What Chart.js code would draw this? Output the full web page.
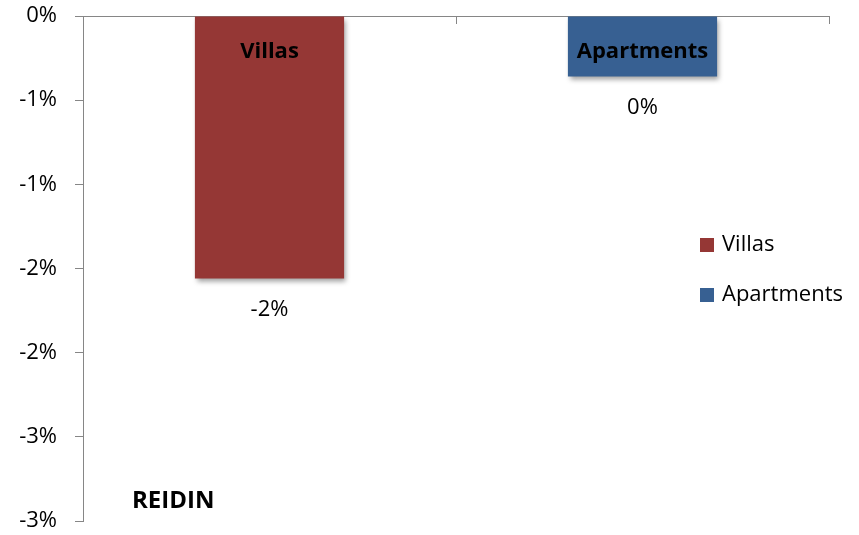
<!DOCTYPE html>
<html>
<head>
<meta charset="utf-8">
<title>REIDIN – Villas vs Apartments</title>
<script src="https://cdn.jsdelivr.net/npm/chart.js@4.4.1/dist/chart.umd.min.js"></script>
<style>
  html, body { margin: 0; padding: 0; background: #fff; }
  #wrap { position: relative; width: 859px; height: 535px; }
</style>
</head>
<body>
<div id="wrap"><canvas id="chart" width="859" height="535"></canvas></div>
<script>
// Price change by property type (percent)
const categories = ['Villas', 'Apartments'];
const villasChange = [-1.56, null];
const apartmentsChange = [null, -0.36];
const seriesColors = ['#953735', '#376092'];
const yTickValues = [0, -0.5, -1, -1.5, -2, -2.5, -3];
const sourceLabel = 'REIDIN';

const FONT = '"Open Sans", Lato, sans-serif';
const AXIS_GREY = '#868686';

// Excel-style whole-percent label, half away from zero, no "-0%"
function pct(v) {
  const s = Math.abs(v).toFixed(0);
  return (v < 0 && s !== '0' ? '-' : '') + s + '%';
}

// soft drop shadow under the bars
const barShadow = {
  id: 'barShadow',
  beforeDatasetsDraw(chart) {
    const ctx = chart.ctx;
    ctx.save();
    ctx.shadowColor = 'rgba(0,0,0,0.38)';
    ctx.shadowBlur = 5;
    ctx.shadowOffsetX = 2;
    ctx.shadowOffsetY = 3;
  },
  afterDatasetsDraw(chart) {
    chart.ctx.restore();
  }
};

// category ticks hanging down from the top axis line
const topAxisTicks = {
  id: 'topAxisTicks',
  afterDraw(chart) {
    const x = chart.scales.x;
    const ctx = chart.ctx;
    const n = categories.length;
    const half = (x.getPixelForValue(1) - x.getPixelForValue(0)) / 2;
    ctx.save();
    ctx.strokeStyle = AXIS_GREY;
    ctx.lineWidth = 1;
    for (let i = 0; i <= n; i++) {
      const px = Math.round(x.getPixelForValue(0) - half + i * half * 2) + 0.5;
      ctx.beginPath();
      ctx.moveTo(px, x.top);
      ctx.lineTo(px, x.top + 8);
      ctx.stroke();
    }
    ctx.restore();
  }
};

// series name inside the top of each bar, value label below it
const barLabels = {
  id: 'barLabels',
  afterDatasetsDraw(chart) {
    const ctx = chart.ctx;
    const y = chart.scales.y;
    ctx.save();
    ctx.textAlign = 'center';
    ctx.textBaseline = 'middle';
    ctx.fillStyle = '#000';
    chart.data.datasets.forEach((ds, di) => {
      chart.getDatasetMeta(di).data.forEach((bar, i) => {
        const v = ds.data[i];
        if (v === null) return;
        ctx.font = 'bold 22px ' + FONT;
        ctx.fillText(ds.label, bar.x, y.getPixelForValue(0) + 36);
        ctx.font = '22px ' + FONT;
        ctx.fillText(pct(v), bar.x, bar.y + 31);
      });
    });
    ctx.restore();
  }
};

// legend floating over the right side of the plot, plus source tag
const sideLegend = {
  id: 'sideLegend',
  afterDraw(chart) {
    const ctx = chart.ctx;
    ctx.save();
    ctx.textBaseline = 'middle';
    ctx.textAlign = 'left';
    chart.data.datasets.forEach((ds, i) => {
      const cy = 245 + i * 50;
      ctx.fillStyle = ds.backgroundColor;
      ctx.fillRect(700, cy - 7, 14, 14);
      ctx.fillStyle = '#000';
      ctx.font = '22px ' + FONT;
      ctx.fillText(ds.label, 722, cy);
    });
    ctx.font = 'bold 24px ' + FONT;
    ctx.fillText(sourceLabel, 132, 501);
    ctx.restore();
  }
};

new Chart(document.getElementById('chart'), {
  type: 'bar',
  data: {
    labels: categories,
    datasets: [
      { label: 'Villas', data: villasChange, backgroundColor: seriesColors[0] },
      { label: 'Apartments', data: apartmentsChange, backgroundColor: seriesColors[1] }
    ]
  },
  options: {
    responsive: false,
    animation: false,
    skipNull: true,
    categoryPercentage: 0.4,
    barPercentage: 1,
    layout: { padding: { top: 16, right: 30, bottom: 14, left: 0 } },
    plugins: { legend: { display: false }, tooltip: { enabled: false } },
    scales: {
      x: {
        position: 'top',
        grid: { display: false },
        border: { display: true, color: AXIS_GREY, width: 1 },
        ticks: { display: false },
        afterFit(scale) { scale.height = 0; }
      },
      y: {
        min: -3,
        max: 0,
        afterBuildTicks(scale) {
          scale.ticks = yTickValues.map(v => ({ value: v }));
        },
        grid: { drawOnChartArea: false, drawTicks: true, tickLength: 8, color: AXIS_GREY },
        border: { display: true, color: AXIS_GREY, width: 1 },
        ticks: {
          padding: 18,
          color: '#000',
          font: { family: FONT, size: 22 },
          callback: v => pct(v)
        },
        afterFit(scale) {
          scale.width = 83;
          scale.paddingTop = 0;
          scale.paddingBottom = 0;
        }
      }
    }
  },
  plugins: [barShadow, barLabels, topAxisTicks, sideLegend]
});
</script>
</body>
</html>
